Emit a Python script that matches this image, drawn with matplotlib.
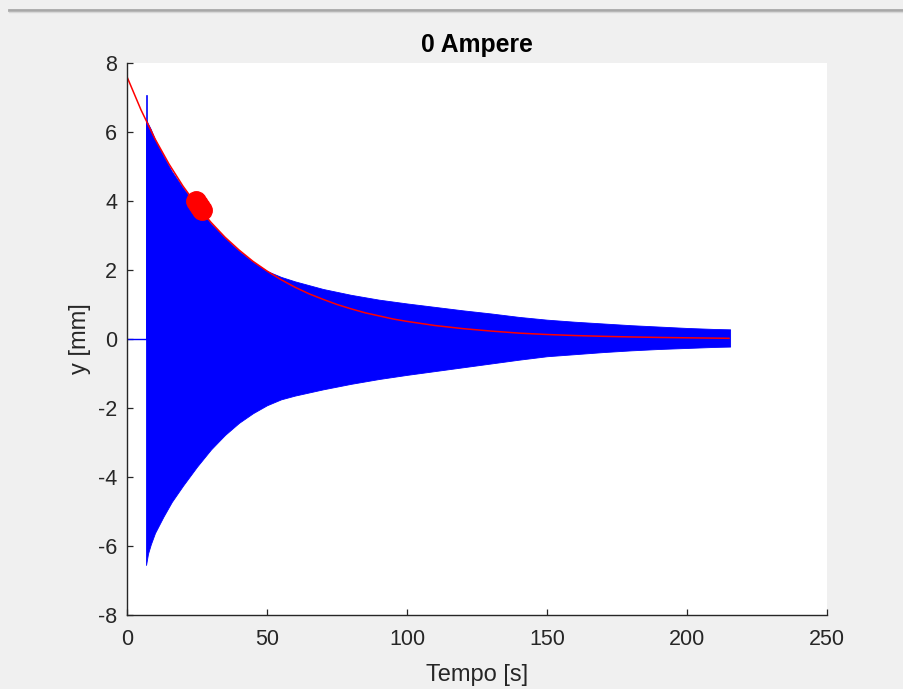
#Damped oscillation at 0 A: envelope of the measured signal and the exponential fit
import matplotlib.pyplot as plt
from matplotlib.lines import Line2D

plt.rcParams['font.family'] = ['Liberation Sans', 'DejaVu Sans']
plt.rcParams['axes.unicode_minus'] = False

TITLE = "0 Ampere"
XLABEL = "Tempo [s]"
YLABEL = "y [mm]"
XTICKS = [0, 50, 100, 150, 200, 250]
YTICKS = [-8, -6, -4, -2, 0, 2, 4, 6, 8]

# envelope of the measured signal (the oscillation is so dense it reads as a filled band)
t_env = [6.8, 7.5, 8.5, 10, 13, 16, 20, 25, 30, 35, 40, 45, 50, 55, 60, 70, 80, 90, 100,
         110, 120, 130, 140, 150, 160, 170, 180, 190, 200, 210, 215.4]
y_upper = [6.36, 6.24, 6.08, 5.78, 5.30, 4.86, 4.38, 3.83, 3.34, 2.92, 2.55, 2.23, 1.97, 1.80,
           1.67, 1.45, 1.28, 1.14, 1.03, 0.93, 0.83, 0.74, 0.64, 0.56, 0.50, 0.45, 0.40, 0.36,
           0.32, 0.29, 0.28]
y_lower = [-6.55, -6.22, -5.95, -5.62, -5.15, -4.72, -4.25, -3.70, -3.20, -2.78, -2.43, -2.15,
           -1.92, -1.75, -1.64, -1.46, -1.30, -1.16, -1.04, -0.93, -0.82, -0.71, -0.60, -0.50,
           -0.44, -0.38, -0.33, -0.29, -0.26, -0.23, -0.22]

# signal before the release and the first spike
t_rest = [0, 6.8]
y_rest = [0, 0]
t_spike = [7.0, 7.0]
y_spike = [0, 7.04]

# exponential fit (red)
t_fit = [0, 5, 10, 15, 20, 25, 30, 35, 40, 45, 50, 55, 60, 65, 70, 75, 80, 85, 90, 95, 100,
         110, 120, 130, 140, 150, 160, 170, 180, 190, 200, 215]
y_fit = [7.60, 6.64, 5.80, 5.07, 4.43, 3.87, 3.38, 2.95, 2.58, 2.25, 1.97, 1.72, 1.50, 1.31,
         1.15, 1.00, 0.875, 0.76, 0.67, 0.58, 0.51, 0.39, 0.30, 0.23, 0.17, 0.13, 0.10, 0.077,
         0.059, 0.045, 0.034, 0.02]

# peak points picked for the fit
t_pk = [24.6, 25.3, 26.0, 26.7]
y_pk = [4.00, 3.91, 3.82, 3.73]

DARK = '#262626'
fig = plt.figure(figsize=(9.04, 6.89), dpi=100, facecolor='#f0f0f0')
ax = fig.add_axes([0.1405, 0.1074, 0.7743, 0.8012])
ax.set_facecolor('white')

ax.fill_between(t_env, y_lower, y_upper, color='#0000ff', lw=0.6, edgecolor='#0000ff')
ax.plot(t_rest, y_rest, color='#0000ff', lw=1.0)
ax.plot(t_spike, y_spike, color='#0000ff', lw=1.2)
ax.plot(t_fit, y_fit, color='#ff0000', lw=1.1)
ax.plot(t_pk, y_pk, 'o', color='#ff0000', ms=14, mec='#ff0000')

ax.set_xlim(0, 250)
ax.set_ylim(-8, 8)
ax.set_xticks(XTICKS)
ax.set_yticks(YTICKS)
ax.spines['top'].set_visible(False)
ax.spines['right'].set_visible(False)
for s in ['left', 'bottom']:
    ax.spines[s].set_color(DARK)
    ax.spines[s].set_linewidth(1.0)
ax.tick_params(direction='in', length=4.5, width=0.9, colors=DARK, labelsize=15.5)
ax.tick_params(axis='x', pad=10)
ax.tick_params(axis='y', pad=7)

ax.set_title(TITLE, fontsize=17.8, fontweight='bold', color='black', pad=8)
ax.set_xlabel(XLABEL, fontsize=17, color=DARK)
ax.set_ylabel(YLABEL, fontsize=17, color=DARK)
ax.xaxis.set_label_coords(0.5, -0.088)
ax.yaxis.set_label_coords(-0.051, 0.5)

# window frame line of the screenshot
fig.add_artist(Line2D([0.01, 1.0], [0.9855, 0.9855], transform=fig.transFigure, color='#a8a8a8', lw=2))
fig.add_artist(Line2D([0.01, 1.0], [0.982, 0.982], transform=fig.transFigure, color='#d8d8d8', lw=1))

plt.savefig('out.png', dpi=100, facecolor=fig.get_facecolor())
